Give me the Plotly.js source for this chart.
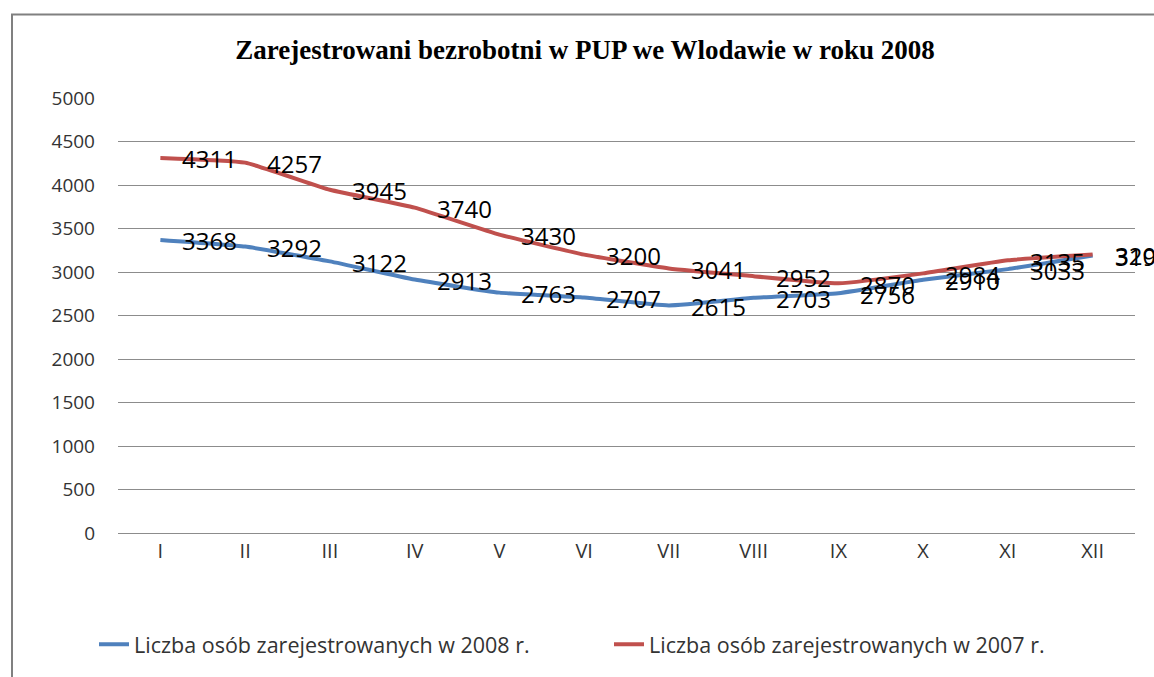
<!DOCTYPE html>
<html>
<head>
<meta charset="utf-8">
<script src="https://cdn.plot.ly/plotly-3.0.1.min.js"></script>
<style>html,body{margin:0;padding:0;background:#fff;}#chart{width:1154px;height:677px;}</style>
</head>
<body>
<div id="chart"></div>
<script>
const months = ["I","II","III","IV","V","VI","VII","VIII","IX","X","XI","XII"];
const values2008 = [3368,3292,3122,2913,2763,2707,2615,2703,2756,2910,3033,3190];
const values2007 = [4311,4257,3945,3740,3430,3200,3041,2952,2870,2984,3135,3200];
const name2008 = "Liczba osób zarejestrowanych w 2008 r.";
const name2007 = "Liczba osób zarejestrowanych w 2007 r.";
const yTicks = [0,500,1000,1500,2000,2500,3000,3500,4000,4500,5000];

const blue = "#4F81BD", red = "#C0504D";

const traces = [
  {x: months, y: values2008, name: name2008, type: "scatter", mode: "lines",
   line: {color: blue, width: 4, shape: "spline", smoothing: 0.4}},
  {x: months, y: values2007, name: name2007, type: "scatter", mode: "lines",
   line: {color: red, width: 4, shape: "spline", smoothing: 0.4}}
];

const annotations = [];
[values2008, values2007].forEach(arr => {
  arr.forEach((v, i) => {
    annotations.push({x: months[i], y: v, xref: "x", yref: "y", text: String(v),
      showarrow: false, xanchor: "left", yanchor: "middle", xshift: 20, yshift: -1,
      font: {family: "Open Sans, sans-serif", size: 24, color: "#000"}});
  });
});

const pw = 1154 - 118 - 19, ph = 677 - 98 - 142;

const layout = {
  width: 1154, height: 677,
  paper_bgcolor: "#fff", plot_bgcolor: "#fff",
  margin: {l: 118, r: 19, t: 98, b: 142},
  title: {text: "<b>Zarejestrowani bezrobotni w PUP we Wlodawie w roku 2008</b>",
    font: {family: "Liberation Serif, Times New Roman, serif", size: 27, color: "#000"},
    x: 585 / 1154, xanchor: "center", y: 0.927, yanchor: "middle"},
  xaxis: {type: "category", range: [-0.5, 11.5], showgrid: false, zeroline: false,
    showline: false, ticks: "", ticklabelstandoff: 4,
    tickfont: {family: "Open Sans, sans-serif", size: 20, color: "#333"}},
  yaxis: {range: [0, 5000], tickvals: yTicks, showgrid: true, gridcolor: "#8c8c8c", gridwidth: 1,
    zeroline: true, zerolinecolor: "#8c8c8c", zerolinewidth: 1, showline: false, ticks: "",
    ticklabelstandoff: 22,
    tickfont: {family: "Open Sans, sans-serif", size: 19, color: "#333"}},
  showlegend: true,
  legend: {orientation: "h", x: (94 - 118) / pw, xanchor: "left", y: -0.256, yanchor: "middle",
    entrywidth: 470, entrywidthmode: "pixels",
    font: {family: "Open Sans, sans-serif", size: 21.5, color: "#333"}},
  annotations: annotations,
  shapes: [{type: "rect", xref: "paper", yref: "paper",
    x0: (12 - 118) / pw, x1: (1160 - 118) / pw, y0: (535 - 690) / ph, y1: (535 - 14) / ph,
    line: {color: "#808080", width: 2}, fillcolor: "rgba(0,0,0,0)", layer: "below"}]
};

Plotly.newPlot("chart", traces, layout, {displayModeBar: false, staticPlot: true});
</script>
</body>
</html>
